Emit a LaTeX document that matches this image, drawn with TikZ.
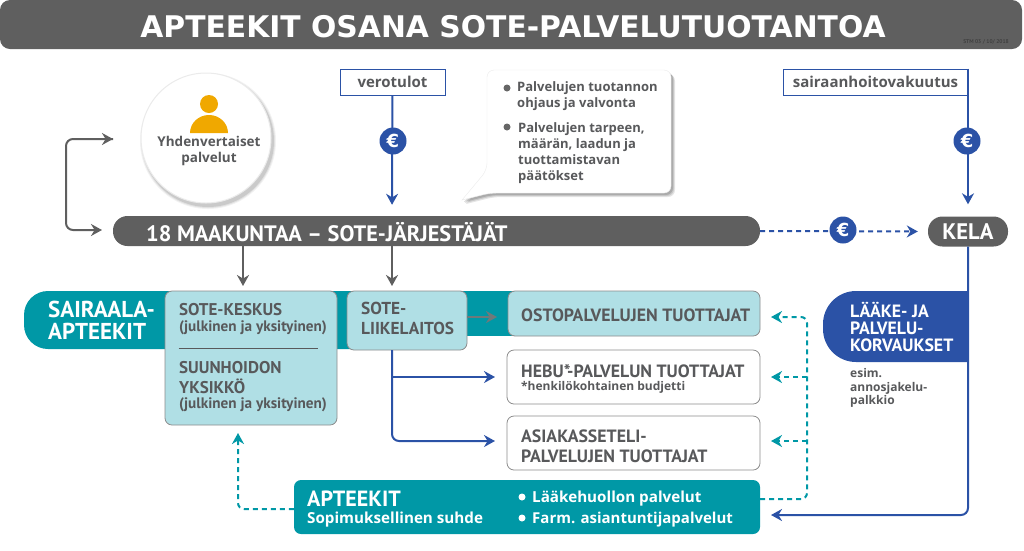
\documentclass[tikz,border=0pt]{standalone}
\usepackage{fontspec}
\usepackage{tikz}
\usetikzlibrary{arrows.meta}
\setmainfont{PT Sans}
\newfontfamily\opensans{Open Sans}
\newfontfamily\dejavu{DejaVu Sans}
\definecolor{greybar}{HTML}{5F5F5F}
\definecolor{inktext}{HTML}{58595B}
\definecolor{tealbar}{HTML}{0098A6}
\definecolor{palebox}{HTML}{B0DFE5}
\definecolor{bluefill}{HTML}{2B52A6}
\definecolor{personc}{HTML}{F0A800}
\newcommand{\fsz}[2]{\fontsize{#1}{#2}\selectfont}
\tikzset{
	bar/.style={fill=greybar,text=white,rounded corners=14.5pt,inner sep=0pt,font=\bfseries},
	boxpale/.style={fill=palebox,draw=black!45,line width=0.8pt,rounded corners=7pt,inner sep=0pt},
	boxwhite/.style={fill=white,draw=black!45,line width=0.8pt,rounded corners=7pt,inner sep=0pt},
	boxteal/.style={fill=tealbar,rounded corners=7pt,inner sep=0pt},
	label/.style={draw=bluefill,fill=white,line width=1pt,inner sep=0pt},
	euro/.style={circle,fill=bluefill,text=white,minimum size=27pt,inner sep=0pt,font=\dejavu\bfseries\fsz{18}{18}},
	txt/.style={inner sep=0pt,anchor=west,align=left,text=inktext,font=\bfseries},
	txtw/.style={inner sep=0pt,anchor=west,align=left,text=white,font=\bfseries},
	small/.style={inner sep=0pt,anchor=west,align=left,text=inktext,font=\opensans\bfseries\fsz{13}{16}},
	dotg/.style={circle,fill=black!60,minimum size=7pt,inner sep=0pt},
	dotw/.style={circle,fill=white,minimum size=7pt,inner sep=0pt},
	bluearrow/.style={-{Stealth[length=11pt,width=12pt]},draw=bluefill,line width=2pt},
	bluedash/.style={bluearrow,dash pattern=on 5pt off 4pt},
	tealdash/.style={-{Stealth[length=11pt,width=12pt]},draw=tealbar,line width=2pt,dash pattern=on 5pt off 4pt},
	greyarrow/.style={-{Stealth[length=11pt,width=12pt]},draw=greybar,line width=2pt},
}
\begin{document}
\begin{tikzpicture}[x=1pt,y=-1pt,>=Stealth]
	\useasboundingbox (0,0) rectangle (1024,550);
	% otsikko
	\node[bar,rounded corners=10pt,minimum width=1022pt,minimum height=49pt] (otsikko) at (511,24.5) {};
	\node[inner sep=0pt,text=white,font=\dejavu\bfseries\fsz{29.8}{29.8}] (otsikkotxt) at (513,27) {APTEEKIT OSANA SOTE-PALVELUTUOTANTOA};
	\node[inner sep=0pt,text=black!75,font=\bfseries\fsz{5.5}{5.5}] (koodi) at (986,42) {STM 03 / 10/ 2018};
	% ympyra
	\foreach \r/\o in {68/0.05,67/0.07,66/0.1}
		\fill[black,opacity=\o] (208,141) circle(\r);
	\node[circle,fill=white,draw=black!8,line width=1pt,minimum size=130pt,inner sep=0pt] (palvelut) at (206,138) {};
	\fill[personc] (190,133) arc(180:360:19 and 18) -- cycle;
	\node[circle,fill=personc,minimum size=18pt,inner sep=0pt] (paa) at (209,104) {};
	\node[inner sep=0pt,align=center,text=inktext,font=\opensans\bfseries\fsz{13.5}{15.5}] (palvelutxt) at (209,151) {Yhdenvertaiset\\palvelut};
	% laatikot ylhaalla
	\node[label,minimum width=105pt,minimum height=26pt,font=\opensans\bfseries\fsz{15}{15},text=inktext] (verotulot) at (392.5,82) {verotulot};
	\node[label,minimum width=185pt,minimum height=26pt,font=\opensans\bfseries\fsz{15}{15},text=inktext] (vakuutus) at (875.5,82) {sairaanhoitovakuutus};
	% puhekupla
	\foreach \d/\o in {4/0.1,3/0.12,2/0.15}
		\fill[black,opacity=\o,rounded corners=7pt,shift={(\d,\d)}] (487,70) -- (671,70) -- (671,193) -- (490,193) [sharp corners] -- (462,200) [rounded corners=7pt] -- (487,170) -- cycle;
	\draw[fill=white,draw=black!8,rounded corners=7pt] (487,70) -- (671,70) -- (671,193) -- (490,193) [sharp corners] -- (462,200) [rounded corners=7pt] -- (487,170) -- cycle;
	\node[dotg] (piste1) at (507,88) {};
	\node[small] (ohjaus) at (517,96.5) {Palvelujen tuotannon\\ohjaus ja valvonta};
	\node[dotg] (piste2) at (507,127) {};
	\node[small] (tarve) at (518,153) {Palvelujen tarpeen,\\määrän, laadun ja\\tuottamistavan\\päätökset};
	% palkit
	\node[bar,minimum width=647pt,minimum height=30pt] (maakunta) at (436.5,231) {};
	\node[txtw,font=\bfseries\fsz{22.3}{22.3}] (maakuntatxt) at (146,232) {18 MAAKUNTAA – SOTE-JÄRJESTÄJÄT};
	\node[bar,minimum width=80pt,minimum height=30pt,font=\bfseries\fsz{22.5}{22.5}] (kela) at (968,231.5) {KELA};
	% sairaala-apteekit
	\fill[tealbar] (360,291) [rounded corners=24pt] -- (24,291) -- (24,349) [sharp corners] -- (360,349) -- cycle;
	\fill[tealbar] (460,291) rectangle (520,336);
	\node[txtw,font=\bfseries\fsz{23}{22}] (sairaala) at (48,320) {SAIRAALA-\\APTEEKIT};
	\node[boxpale,minimum width=172pt,minimum height=134pt] (keskus) at (251,358) {};
	\node[txt,font=\bfseries\fsz{17}{17}] (keskus1) at (179,310) {SOTE-KESKUS};
	\node[txt,font=\bfseries\fsz{15.2}{15.2}] (keskus2) at (179,328) {(julkinen ja yksityinen)};
	\draw[inktext,line width=0.8pt] (keskus.west |- 0,348) ++(14,0) -- ++(139,0);
	\node[txt,font=\bfseries\fsz{17}{20}] (suun) at (179,377.5) {SUUNHOIDON\\YKSIKKÖ};
	\node[txt,font=\bfseries\fsz{15.2}{15.2}] (suun2) at (179,405) {(julkinen ja yksityinen)};
	\node[boxpale,minimum width=120pt,minimum height=59pt] (liikelaitos) at (407,320.5) {};
	\node[txt,font=\bfseries\fsz{17.3}{20}] (liikelaitostxt) at (361,318) {SOTE-\\LIIKELAITOS};
	\node[boxpale,minimum width=252pt,minimum height=45pt] (osto) at (634,313.5) {};
	\node[txt,font=\bfseries\fsz{17.8}{17.8}] (ostotxt) at (521,315) {OSTOPALVELUJEN TUOTTAJAT};
	\node[boxwhite,minimum width=253pt,minimum height=54pt] (hebu) at (633.5,377) {};
	\node[txt,font=\bfseries\fsz{17.8}{17.8}] (hebutxt) at (521,371) {HEBU*-PALVELUN TUOTTAJAT};
	\node[txt,font=\opensans\bfseries\fsz{12}{12}] (hebu2) at (521,387) {*henkilökohtainen budjetti};
	\node[boxwhite,minimum width=253pt,minimum height=54pt] (asiakas) at (633.5,443) {};
	\node[txt,font=\bfseries\fsz{17.8}{20}] (asiakastxt) at (521,446) {ASIAKASSETELI-\\PALVELUJEN TUOTTAJAT};
	\node[boxteal,minimum width=466pt,minimum height=54pt] (apteekit) at (527,507) {};
	\node[txtw,font=\bfseries\fsz{22}{22}] (apteekittxt) at (307,499) {APTEEKIT};
	\node[txtw,font=\opensans\bfseries\fsz{15.2}{15.2}] (sopimus) at (307,520) {Sopimuksellinen suhde};
	\node[dotw] (piste3) at (522,497) {};
	\node[txtw,font=\opensans\bfseries\fsz{15.2}{15.2}] (huolto) at (532,499) {Lääkehuollon palvelut};
	\node[dotw] (piste4) at (522,518) {};
	\node[txtw,font=\opensans\bfseries\fsz{15}{15}] (farm) at (532,520) {Farm. asiantuntijapalvelut};
	% korvaukset
	\fill[bluefill] (968,291) [rounded corners=33pt] -- (823,291) -- (823,362) [sharp corners] -- (968,362) -- cycle;
	\node[txtw,font=\bfseries\fsz{17.8}{17.2}] (korvaus) at (850,327) {LÄÄKE- JA\\PALVELU-\\KORVAUKSET};
	\node[small,font=\opensans\bfseries\fsz{12}{13.5}] (esim) at (850,388) {esim.\\annosjakelu-\\palkkio};
	% nuolet
	\coordinate (mid) at (392,0);
	\coordinate (oikea) at (968,0);
	\coordinate (vasen) at (66,0);
	\coordinate (palvelutv) at (113,139);
	\coordinate (maakuntav) at (102,230);
	\draw[greyarrow,rounded corners=7pt] (palvelutv) -- (vasen |- palvelutv) -- (vasen |- maakuntav) -- (maakuntav);
	\draw[{Stealth[length=11pt,width=12pt]}-,draw=greybar,line width=2pt] (palvelutv) -- ++(-10,0);
	\draw[bluearrow,shorten >=11pt] (verotulot) -- (mid |- maakunta.north);
	\node[euro] (euro1) at (393,141) {€};
	\draw[bluearrow,shorten >=12pt] (vakuutus.north -| oikea) -- (oikea |- kela.north);
	\node[euro] (euro2) at (967,141) {€};
	\draw[bluedash,shorten >=10pt] (maakunta.east) -- (kela.west);
	\node[euro] (euro3) at (843,230) {€};
	\draw[greyarrow] (243,246) -- (243,286);
	\draw[greyarrow] (mid |- maakunta.south) -- (392,286);
	\draw[greyarrow,draw=greybar!80!palebox] (liikelaitos.east |- 0,317) -- (497,317);
	\draw[bluearrow] (mid |- liikelaitos.south) -- (392,377) -- (495,377);
	\draw[bluearrow,rounded corners=7pt] (mid |- liikelaitos.south) -- (392,441) -- (495,441);
	\draw[tealdash,rounded corners=6pt] (apteekit.west |- 0,509) -- (238,509) -- (238,433);
	\draw[tealdash,rounded corners=6pt] (760,499) -- (807,499) -- (807,317) -- (771,317);
	\draw[tealdash] (807,377) -- (771,377);
	\draw[tealdash] (807,441) -- (771,441);
	\draw[bluearrow,rounded corners=7pt] (oikea |- kela.south) -- (968,515) -- (771,515);
\end{tikzpicture}
\end{document}
